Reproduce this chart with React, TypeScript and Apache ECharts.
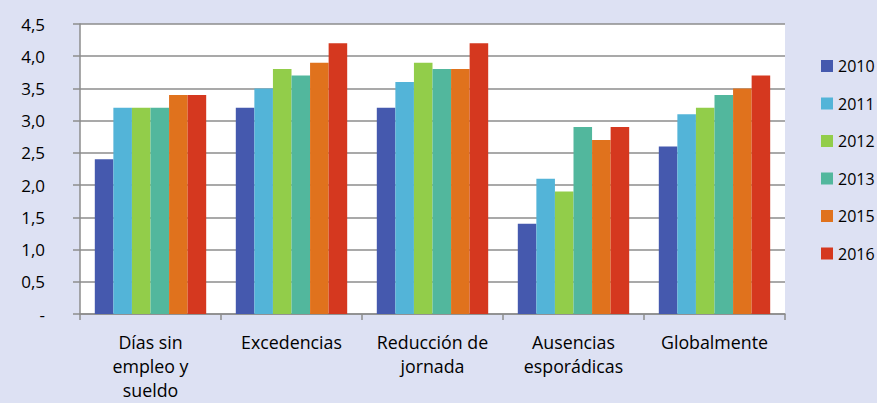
import React, { useEffect, useRef } from "react";
import * as echarts from "echarts";

const categories = ["Días sin\nempleo y\nsueldo", "Excedencias", "Reducción de\njornada", "Ausencias\nesporádicas", "Globalmente"];
const years = ["2010", "2011", "2012", "2013", "2015", "2016"];
const colors = ["#4559AE", "#53B4D8", "#92CD4A", "#52B79D", "#E0721D", "#D5381F"];
const v2010 = [2.4, 3.2, 3.2, 1.4, 2.6];
const v2011 = [3.2, 3.5, 3.6, 2.1, 3.1];
const v2012 = [3.2, 3.8, 3.9, 1.9, 3.2];
const v2013 = [3.2, 3.7, 3.8, 2.9, 3.4];
const v2015 = [3.4, 3.9, 3.8, 2.7, 3.5];
const v2016 = [3.4, 4.2, 4.2, 2.9, 3.7];
const seriesValues = [v2010, v2011, v2012, v2013, v2015, v2016];

export default function App() {
  const ref = useRef<HTMLDivElement>(null);
  useEffect(() => {
    if (!ref.current) return;
    const chart = echarts.init(ref.current, null, { renderer: "svg" });
    const font = "'Open Sans', 'Noto Sans', sans-serif";
    const fs = 17.8;
    chart.setOption({
      animation: false,
      backgroundColor: "#DDE1F3",
      textStyle: { fontFamily: font },
      grid: {
        left: 80,
        right: 92,
        top: 24,
        bottom: 89,
        show: true,
        backgroundColor: "#FFFFFF",
        borderWidth: 0,
      },
      legend: {
        orient: "vertical",
        left: 816,
        top: 53,
        itemWidth: 12,
        itemHeight: 12,
        itemGap: 21.5,
        icon: "rect",
        textStyle: { fontSize: 16, color: "#000", fontFamily: font },
        data: years,
      },
      xAxis: {
        type: "category",
        data: categories,
        axisLine: { lineStyle: { color: "#8C8C8C", width: 1.5 } },
        axisTick: { show: true, length: 6, lineStyle: { color: "#8C8C8C", width: 1.5 } },
        axisLabel: { fontSize: fs, color: "#000", lineHeight: 24, margin: 16, fontFamily: font, interval: 0 },
      },
      yAxis: {
        type: "value",
        min: 0,
        max: 4.5,
        interval: 0.5,
        axisLine: { show: true, lineStyle: { color: "#8C8C8C", width: 1.5 } },
        axisTick: { show: true, length: 7, lineStyle: { color: "#8C8C8C", width: 1.5 } },
        splitLine: { show: true, lineStyle: { color: "#8C8C8C", width: 1.5 } },
        axisLabel: {
          fontSize: 17,
          color: "#000",
          margin: 35,
          align: "right",
          fontFamily: font,
          formatter: (v: number) => (v === 0 ? "-" : v.toFixed(1).replace(".", ",")),
        },
      },
      series: years.map((y, i) => ({
        name: y,
        type: "bar",
        data: seriesValues[i],
        itemStyle: { color: colors[i] },
        barGap: "0%",
        barCategoryGap: "21%",
      })),
    });
    return () => chart.dispose();
  }, []);
  return <div ref={ref} style={{ width: 877, height: 403, position: "absolute", left: 0, top: 0 }} />;
}
